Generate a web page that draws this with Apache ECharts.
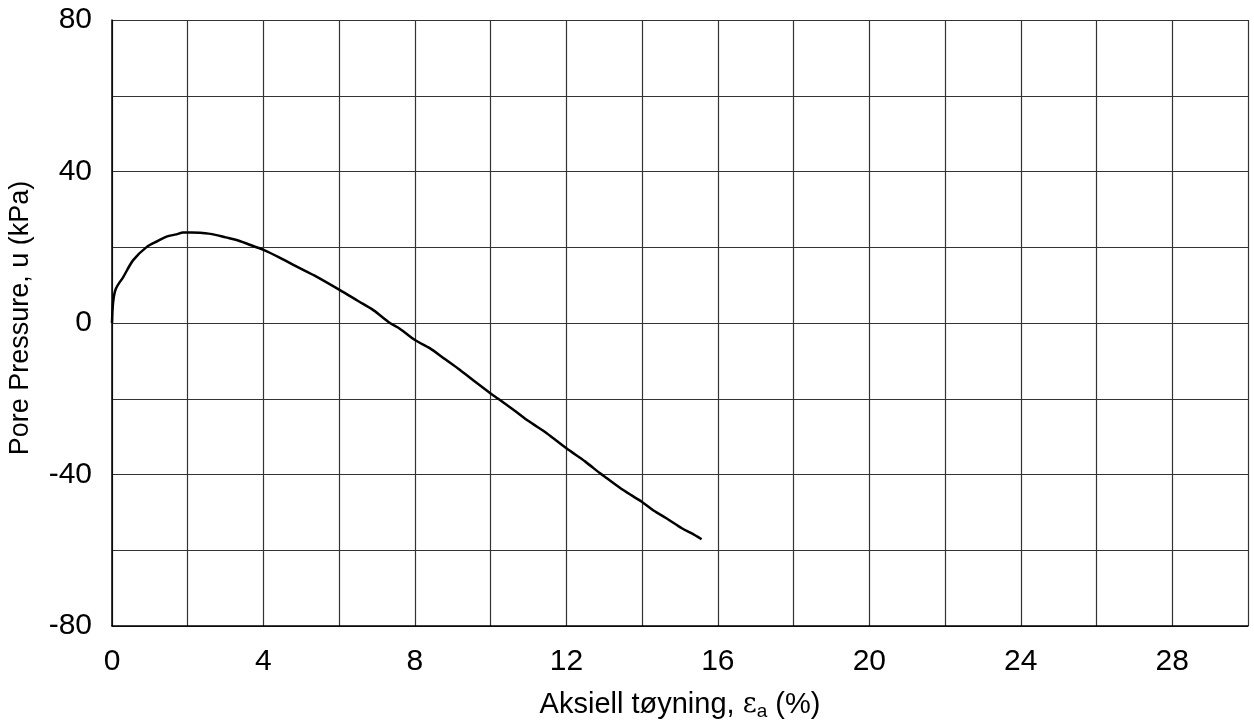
<!DOCTYPE html>
<html>
<head>
<meta charset="utf-8">
<script src="https://cdn.jsdelivr.net/npm/echarts@6/dist/echarts.min.js"></script>
<style>html,body{margin:0;padding:0;background:#fff}#c{width:1254px;height:723px}</style>
</head>
<body>
<div id="c"></div>
<script>
const strainX = [0, 0.03, 0.1, 0.3, 0.56, 0.92, 1.2, 1.44, 1.7, 1.88, 2.1, 2.32, 2.55, 2.76, 3.0, 3.29, 3.6, 4.0, 4.4, 4.88, 5.41, 6.02, 6.5, 6.9, 7.34, 7.6, 8.0, 8.4, 8.8, 9.19, 9.6, 10.0, 10.2, 10.6, 11.0, 11.48, 12.0, 12.5, 12.89, 13.07, 13.5, 13.99, 14.3, 14.65, 15.05, 15.3, 15.57];
const porePressure = [0, 5.5, 9, 12.2, 16.6, 20.1, 21.6, 22.8, 23.4, 23.9, 23.9, 23.8, 23.6, 23.2, 22.6, 21.9, 20.8, 19.3, 17.4, 14.9, 12.2, 8.7, 5.8, 3.4, 0, -1.5, -4.5, -6.7, -9.6, -12.4, -15.6, -18.6, -20, -22.9, -25.9, -29.1, -33.1, -36.6, -39.7, -41.0, -44.1, -47.2, -49.5, -51.6, -54.2, -55.5, -57.1];
const xTickLabels = ['0', '4', '8', '12', '16', '20', '24', '28'];
const yTickLabels = ['-80', '-40', '0', '40', '80'];

const chart = echarts.init(document.getElementById('c'), null, {renderer: 'canvas'});
const font = 'Liberation Sans, Arial, sans-serif';
chart.setOption({
  animation: false,
  backgroundColor: '#fff',
  grid: {left: 112, right: 6, top: 20, bottom: 97, show: false, containLabel: false, outerBoundsMode: 'none'},
  xAxis: {
    type: 'value', min: 0, max: 30, interval: 2,
    name: 'Aksiell tøyning, {e|ε}{s|a} (%)',
    nameLocation: 'middle', nameGap: 62,
    nameTextStyle: {
      fontFamily: font, fontSize: 29, color: '#000',
      rich: {
        e: {fontFamily: 'DejaVu Serif, serif', fontSize: 27, color: '#000'},
        s: {fontFamily: font, fontSize: 19, color: '#000', padding: [14, 0, 0, 0]}
      }
    },
    axisLine: {show: true, onZero: false, lineStyle: {color: '#000', width: 1.5}},
    axisTick: {show: false},
    axisLabel: {
      margin: 21, fontFamily: font, fontSize: 30, color: '#000',
      formatter: v => xTickLabels.includes(String(v)) ? String(v) : ''
    },
    splitLine: {show: true, lineStyle: {color: '#333', width: 1.2}}
  },
  yAxis: {
    type: 'value', min: -80, max: 80, interval: 20,
    name: 'Pore Pressure, u (kPa)',
    nameLocation: 'middle', nameGap: 78,
    nameTextStyle: {fontFamily: font, fontSize: 27, color: '#000', padding: [0, 0, 0, 10]},
    axisLine: {show: true, onZero: false, lineStyle: {color: '#000', width: 1.5}},
    axisTick: {show: false},
    axisLabel: {
      margin: 20, fontFamily: font, fontSize: 30, color: '#000',
      formatter: v => yTickLabels.includes(String(v)) ? String(v) : ''
    },
    splitLine: {show: true, lineStyle: {color: '#333', width: 1.2}}
  },
  series: [{
    type: 'line',
    data: strainX.map((x, i) => [x, porePressure[i]]),
    showSymbol: false,
    smooth: 0.3,
    lineStyle: {color: '#000', width: 2.5},
    clip: true
  }]
});
</script>
</body>
</html>
